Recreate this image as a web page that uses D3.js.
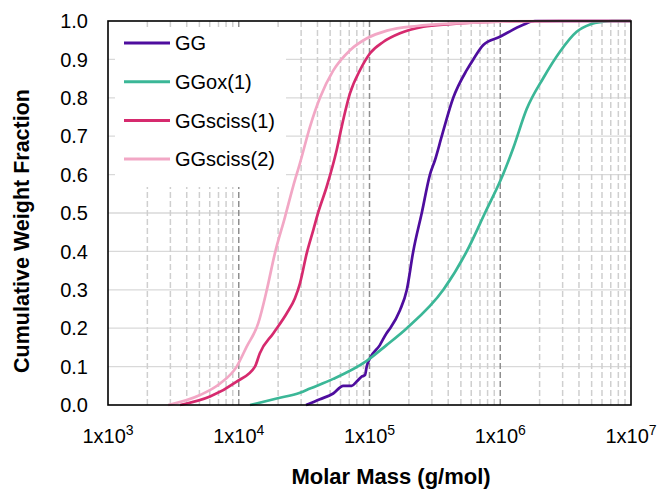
<!DOCTYPE html>
<html>
<head>
<meta charset="utf-8">
<script src="https://cdn.jsdelivr.net/npm/d3@7"></script>
<style>
  body { margin: 0; background: #fff; }
  text { font-family: "Liberation Sans", Arial, sans-serif; fill: #000; }
</style>
</head>
<body>
<div id="chart"></div>
<script>
// series names + colours
var seriesNames = ["GG", "GGox(1)", "GGsciss(1)", "GGsciss(2)"];
var seriesColors = ["#4e0d9e", "#3bb797", "#d62a6e", "#f2a7c5"];

// molar mass (g/mol) and cumulative weight fraction
var ggMass = [32700, 41800, 52800, 63000, 73100, 79800, 87100, 92400, 95200, 101000, 120000, 135000, 144000, 171000, 193000, 216000, 251000, 290000, 317000, 357000, 437000, 554000, 622000, 742000, 995000, 1500000, 1840000, 10000000];
var ggFrac = [0, 0.015, 0.03, 0.05, 0.05, 0.061, 0.074, 0.078, 0.10, 0.122, 0.156, 0.187, 0.20, 0.247, 0.30, 0.40, 0.50, 0.60, 0.638, 0.70, 0.80, 0.872, 0.90, 0.9375, 0.959, 0.99, 1.0, 1.0];

var oxMass = [12200, 19500, 29400, 35100, 52800, 95200, 135000, 193000, 367000, 554000, 764000, 1050000, 1260000, 1590000, 2130000, 2860000, 3840000, 4860000, 6140000, 7160000, 10000000];
var oxFrac = [0, 0.017, 0.032, 0.043, 0.068, 0.115, 0.156, 0.20, 0.30, 0.40, 0.50, 0.60, 0.67, 0.77, 0.851, 0.92, 0.972, 0.991, 0.998, 1.0, 1.0];

var sc1Mass = [3560, 6030, 9640, 13300, 14500, 18400, 23300, 26900, 29400, 33100, 37200, 40400, 47100, 56100, 61300, 71000, 84600, 101000, 128000, 171000, 258000, 413000, 700000, 2870000, 10000000];
var sc1Frac = [0, 0.022, 0.061, 0.10, 0.135, 0.187, 0.239, 0.278, 0.317, 0.395, 0.456, 0.50, 0.569, 0.664, 0.725, 0.812, 0.872, 0.916, 0.946, 0.968, 0.985, 0.992, 0.997, 1.0, 1.0];

var sc2Mass = [2890, 5060, 7200, 9640, 11500, 14100, 16400, 18900, 22600, 26100, 29400, 35100, 41800, 52600, 71000, 95700, 136000, 231000, 413000, 2400000, 10000000];
var sc2Frac = [0, 0.026, 0.056, 0.10, 0.152, 0.213, 0.30, 0.395, 0.49, 0.57, 0.63, 0.725, 0.80, 0.87, 0.924, 0.955, 0.975, 0.987, 0.993, 1.0, 1.0];

var yTicks = [0, 0.1, 0.2, 0.3, 0.4, 0.5, 0.6, 0.7, 0.8, 0.9, 1.0];
var xTickExps = [3, 4, 5, 6, 7];

var width = 659, height = 491;
var margin = {top: 21, right: 28, bottom: 86, left: 108};

var svg = d3.select("#chart").append("svg")
    .attr("width", width)
    .attr("height", height);

var x = d3.scaleLog()
    .domain([1e3, 1e7])
    .range([margin.left, width - margin.right]);

var y = d3.scaleLinear()
    .domain([0, 1])
    .range([height - margin.bottom, margin.top]);

// horizontal grid
svg.append("g").selectAll("line")
    .data(yTicks.slice(1, -1))
    .enter().append("line")
    .attr("x1", x(1e3)).attr("x2", x(1e7))
    .attr("y1", function(d) { return y(d); })
    .attr("y2", function(d) { return y(d); })
    .style("stroke", "#d9d9d9")
    .style("stroke-width", 1.3);

// vertical dashed grid (minor + decades)
var minor = [];
for (var e = 3; e < 7; e++) {
  for (var k = 2; k <= 9; k++) minor.push(k * Math.pow(10, e));
}
svg.append("g").selectAll("line")
    .data(minor)
    .enter().append("line")
    .attr("x1", function(d) { return x(d); })
    .attr("x2", function(d) { return x(d); })
    .attr("y1", y(0)).attr("y2", y(1))
    .style("stroke", "#cfcfcf")
    .style("stroke-width", 1.5)
    .style("stroke-dasharray", "6,3");

svg.append("g").selectAll("line")
    .data([1e4, 1e5, 1e6])
    .enter().append("line")
    .attr("x1", function(d) { return x(d); })
    .attr("x2", function(d) { return x(d); })
    .attr("y1", y(0)).attr("y2", y(1))
    .style("stroke", "#8f8f8f")
    .style("stroke-width", 1.5)
    .style("stroke-dasharray", "6,3");

// legend background hides the grid behind it
svg.append("rect")
    .attr("x", 115).attr("y", 30)
    .attr("width", 171).attr("height", 157)
    .style("fill", "#fff");

// curves
var line = d3.line()
    .x(function(d) { return x(d[0]); })
    .y(function(d) { return y(d[1]); })
    .curve(d3.curveMonotoneX);

var series = [
  d3.zip(ggMass, ggFrac),
  d3.zip(oxMass, oxFrac),
  d3.zip(sc1Mass, sc1Frac),
  d3.zip(sc2Mass, sc2Frac)
];

svg.append("g").selectAll("path")
    .data(series)
    .enter().append("path")
    .attr("d", line)
    .style("fill", "none")
    .style("stroke", function(d, i) { return seriesColors[i]; })
    .style("stroke-width", 2.7)
    .style("stroke-linejoin", "round");

// frame
svg.append("rect")
    .attr("x", x(1e3)).attr("y", y(1))
    .attr("width", x(1e7) - x(1e3))
    .attr("height", y(0) - y(1))
    .style("fill", "none")
    .style("stroke", "#000")
    .style("stroke-width", 1.6);

// y tick labels
svg.append("g").selectAll("text")
    .data(yTicks)
    .enter().append("text")
    .attr("x", 88)
    .attr("y", function(d) { return y(d); })
    .attr("dy", "0.36em")
    .attr("text-anchor", "end")
    .style("font-size", "20px")
    .text(function(d) { return d.toFixed(1); });

// x tick labels 1x10^n
var xt = svg.append("g").selectAll("text")
    .data(xTickExps)
    .enter().append("text")
    .attr("x", function(d) { return x(Math.pow(10, d)); })
    .attr("y", 443)
    .attr("text-anchor", "middle")
    .style("font-size", "20px");
xt.append("tspan").text("1x10");
xt.append("tspan")
    .attr("dy", "-8")
    .style("font-size", "14px")
    .text(function(d) { return d; });

// legend
var leg = svg.append("g").selectAll("g")
    .data(seriesNames)
    .enter().append("g")
    .attr("transform", function(d, i) { return "translate(124," + (43 + i * 38.7) + ")"; });
leg.append("line")
    .attr("x1", 0).attr("x2", 46)
    .style("stroke", function(d, i) { return seriesColors[i]; })
    .style("stroke-width", 3);
leg.append("text")
    .attr("x", 51)
    .attr("dy", "0.36em")
    .style("font-size", "20px")
    .text(function(d) { return d; });

// axis titles
svg.append("text")
    .attr("x", 391)
    .attr("y", 484)
    .attr("text-anchor", "middle")
    .style("font-size", "22px")
    .style("font-weight", "bold")
    .text("Molar Mass (g/mol)");

svg.append("text")
    .attr("transform", "translate(29,231) rotate(-90)")
    .attr("text-anchor", "middle")
    .style("font-size", "21.5px")
    .style("font-weight", "bold")
    .text("Cumulative Weight Fraction");
</script>
</body>
</html>
